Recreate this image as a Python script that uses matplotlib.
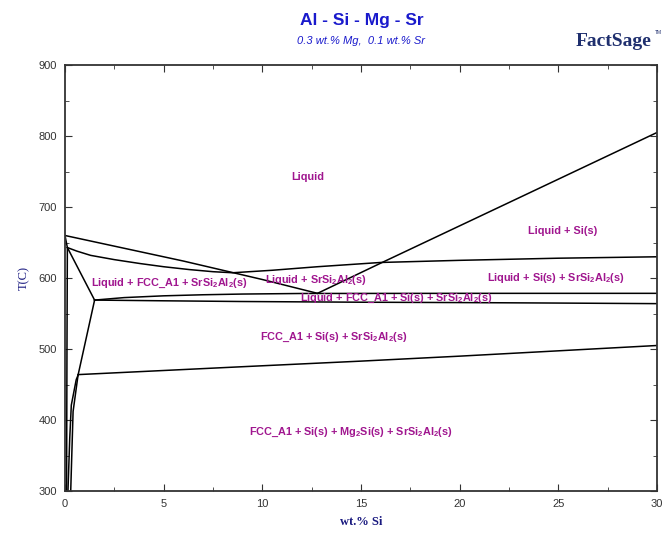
import matplotlib
matplotlib.use("Agg")
import matplotlib.pyplot as plt
from matplotlib.ticker import MultipleLocator

plt.rcParams["font.family"] = ["Liberation Sans", "DejaVu Sans"]
plt.rcParams["mathtext.fontset"] = "custom"
plt.rcParams["mathtext.rm"] = "Liberation Sans:bold"
plt.rcParams["mathtext.bf"] = "Liberation Sans:bold"
plt.rcParams["mathtext.default"] = "bf"

# phase boundaries, wt.% Si vs T(C)
fcc_liq_x = [0, 2, 4, 6, 8, 10, 12.8]
fcc_liq_t = [660, 648, 636, 624, 611, 598, 578.5]

sr_liq_x = [0.12, 0.6, 1.3, 2.5, 3.8, 5, 6.3, 7.5, 8.5, 10.5, 12.8, 16, 20, 25, 30]
sr_liq_t = [643, 638, 632, 626, 620.5, 616, 612, 609, 607.5, 611, 616, 622, 625, 628, 630]

si_liq_x = [12.8, 16, 22.7, 30]
si_liq_t = [578.5, 621, 709, 805]

solidus_x = [0, 0.12, 0.1, 0.08]
solidus_t = [660, 643, 500, 300]

kink_x = [0.12, 1.5]
kink_t = [643, 569]

upper_inv_x = [1.5, 3, 5, 7, 9, 12, 20, 30]
upper_inv_t = [569, 572.5, 575, 576.5, 577.5, 578.3, 578.5, 578.5]

lower_inv_x = [1.5, 5, 8.9, 15, 20, 25, 30]
lower_inv_t = [569, 568, 567, 566, 565.5, 564.8, 564]

solvus_a_x = [1.5, 0.66, 0.41, 0.29]
solvus_a_t = [569, 463, 412, 300]

solvus_b_x = [0.66, 0.57, 0.32, 0.24, 0.15]
solvus_b_t = [463, 457, 421, 374, 300]

mg2si_x = [0.66, 8.9, 15, 20, 25, 30]
mg2si_t = [464, 475, 483, 490, 497.5, 505]

boundaries = [
    (fcc_liq_x, fcc_liq_t), (sr_liq_x, sr_liq_t), (si_liq_x, si_liq_t),
    (solidus_x, solidus_t), (kink_x, kink_t), (upper_inv_x, upper_inv_t),
    (lower_inv_x, lower_inv_t), (solvus_a_x, solvus_a_t),
    (solvus_b_x, solvus_b_t), (mg2si_x, mg2si_t),
]

region_names = [
    "Liquid",
    "Liquid + Si(s)",
    "Liquid + FCC_A1 + SrSi$_2$Al$_2$(s)",
    "Liquid + SrSi$_2$Al$_2$(s)",
    "Liquid + Si(s) + SrSi$_2$Al$_2$(s)",
    "Liquid + FCC_A1 + Si(s) + SrSi$_2$Al$_2$(s)",
    "FCC_A1 + Si(s) + SrSi$_2$Al$_2$(s)",
    "FCC_A1 + Si(s) + Mg$_2$Si(s) + SrSi$_2$Al$_2$(s)",
]
region_xy = [
    (12.3, 743), (25.2, 667), (5.3, 593), (12.7, 597),
    (24.9, 600), (16.8, 572), (13.6, 517), (14.5, 383),
]

fig = plt.figure(figsize=(6.68, 5.34), dpi=100)
ax = fig.add_axes([0.0973, 0.0805, 0.886, 0.7975])

for bx, bt in boundaries:
    ax.plot(bx, bt, color="black", lw=1.1, solid_joinstyle="round")

for name, (lx, lt) in zip(region_names, region_xy):
    ax.text(lx, lt, name, color="#a0168f", fontsize=7.8, fontweight="bold",
            ha="center", va="center")

ax.set_xlim(0, 30)
ax.set_ylim(300, 900)
ax.xaxis.set_major_locator(MultipleLocator(5))
ax.xaxis.set_minor_locator(MultipleLocator(2.5))
ax.yaxis.set_major_locator(MultipleLocator(100))
ax.yaxis.set_minor_locator(MultipleLocator(50))
ax.tick_params(which="both", direction="in", top=True, right=True,
               labelsize=8, labelcolor="#333333", color="#333333", pad=6)
ax.tick_params(which="major", length=5)
ax.tick_params(which="minor", length=3)
for sp in ax.spines.values():
    sp.set_color("#333333")
    sp.set_linewidth(1.3)

ax.set_xlabel("wt.% Si", family="Liberation Serif", fontweight="bold",
              fontsize=9, color="#1a1a80", labelpad=5)
ax.set_ylabel("T(C)", family="Liberation Serif", fontsize=9,
              color="#1a1a80", labelpad=6)

fig.text(0.541, 0.962, "Al - Si - Mg - Sr", ha="center", va="center",
         fontsize=12.5, fontweight="bold", color="#1a1acc")
fig.text(0.541, 0.923, "0.3 wt.% Mg,  0.1 wt.% Sr", ha="center", va="center",
         fontsize=8, style="italic", color="#1a1acc")
fig.text(0.918, 0.922, "FactSage", ha="center", va="center", fontsize=14,
         fontweight="bold", family="Liberation Serif", color="#1f2f6e")
fig.text(0.985, 0.94, "TM", ha="center", va="center", fontsize=3.5,
         color="#1f2f6e")

fig.savefig("out.png", dpi=100)
